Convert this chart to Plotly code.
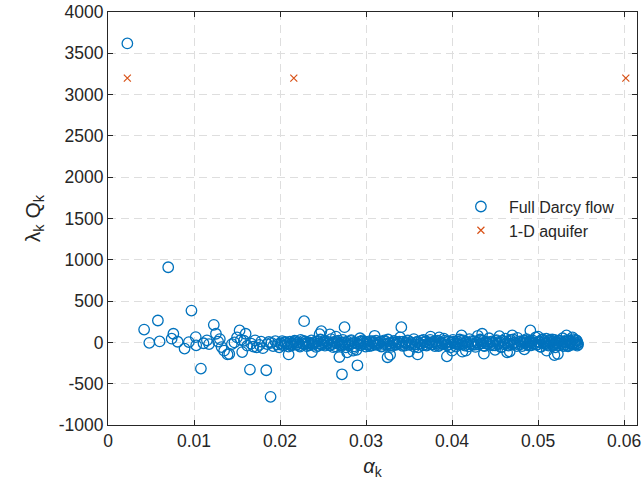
import plotly.graph_objects as go

# ---- data ----
darcy_alpha = [
    0.00225, 0.00420, 0.00480, 0.00580, 0.00600, 0.00700, 0.00740, 0.00760, 0.00810, 0.00890,
    0.00940, 0.00970, 0.01020, 0.01025, 0.01080, 0.01110, 0.01150, 0.01175, 0.01230, 0.01255,
    0.01280, 0.01300, 0.01320, 0.01350, 0.01390, 0.01410, 0.01440, 0.01470, 0.01500, 0.01530,
    0.01545, 0.01560, 0.01580, 0.01600, 0.01620, 0.01650, 0.01665, 0.01690, 0.01710, 0.01730,
    0.01760, 0.01780, 0.01800, 0.01840, 0.01850, 0.01870, 0.01890, 0.01900, 0.01920, 0.01945,
    0.01970, 0.01990,
    0.02010, 0.02025, 0.02046, 0.02061, 0.02083, 0.02098, 0.02115, 0.02136, 0.02152, 0.02170,
    0.02188, 0.02205, 0.02224, 0.02240, 0.02259, 0.02275, 0.02293, 0.02311, 0.02330, 0.02346,
    0.02365, 0.02381, 0.02400, 0.02418, 0.02434, 0.02452, 0.02470, 0.02487, 0.02505, 0.02522,
    0.02540, 0.02556, 0.02575, 0.02592, 0.02610, 0.02627, 0.02645, 0.02661, 0.02680, 0.02697,
    0.02715, 0.02731, 0.02750, 0.02766, 0.02785, 0.02801, 0.02820, 0.02836, 0.02855, 0.02871,
    0.02890, 0.02906, 0.02925, 0.02941, 0.02960, 0.02976, 0.02995, 0.03011, 0.03030, 0.03046,
    0.03065, 0.03081, 0.03100, 0.03116, 0.03135, 0.03151, 0.03170, 0.03186, 0.03205, 0.03221,
    0.03240, 0.03256, 0.03275, 0.03291, 0.03310, 0.03326, 0.03345, 0.03361, 0.03380, 0.03396,
    0.03415, 0.03431, 0.03450, 0.03466, 0.03485, 0.03501, 0.03520, 0.03536, 0.03555, 0.03571,
    0.03590, 0.03606, 0.03625, 0.03641, 0.03660, 0.03676, 0.03695, 0.03711, 0.03730, 0.03746,
    0.03765, 0.03781, 0.03800, 0.03816, 0.03835, 0.03851, 0.03870, 0.03886, 0.03905, 0.03921,
    0.03940, 0.03956, 0.03975, 0.03991, 0.04010, 0.04026, 0.04045, 0.04061, 0.04080, 0.04096,
    0.04115, 0.04131, 0.04150, 0.04166, 0.04185, 0.04201, 0.04220, 0.04236, 0.04255, 0.04271,
    0.04290, 0.04306, 0.04325, 0.04341, 0.04360, 0.04376, 0.04395, 0.04411, 0.04430, 0.04446,
    0.04465, 0.04481, 0.04500, 0.04516, 0.04535, 0.04551, 0.04570, 0.04586, 0.04605, 0.04621,
    0.04640, 0.04656, 0.04675, 0.04691, 0.04710, 0.04726, 0.04745, 0.04761, 0.04780, 0.04796,
    0.04815, 0.04831, 0.04850, 0.04866, 0.04885, 0.04901, 0.04920, 0.04936, 0.04955, 0.04971,
    0.04990, 0.05006, 0.05025, 0.05041, 0.05060, 0.05076, 0.05095, 0.05111, 0.05130, 0.05146,
    0.05165, 0.05181, 0.05200, 0.05216, 0.05235, 0.05251, 0.05270, 0.05286, 0.05305, 0.05321,
    0.05340, 0.05356, 0.05375, 0.05391, 0.05410, 0.05426, 0.05440, 0.05452, 0.05460, 0.05465,
    0.04822, 0.04878, 0.04912, 0.04962, 0.05018, 0.05052, 0.05088, 0.05122, 0.05158, 0.05192,
    0.05228, 0.05262, 0.05298, 0.05332, 0.05366, 0.05402, 0.05434, 0.05455,
    0.02100, 0.02280, 0.02370, 0.02480, 0.02580, 0.02460, 0.02690, 0.02720, 0.02750, 0.02780,
    0.02900, 0.02930, 0.02850, 0.03250, 0.03280, 0.03410, 0.03600, 0.03940, 0.04110, 0.04120,
    0.04160, 0.04350, 0.04370, 0.04640, 0.04670, 0.04840, 0.04910, 0.05190, 0.05230, 0.05330,
    0.04300, 0.04550, 0.04700, 0.05000, 0.03750, 0.03100, 0.02650, 0.03500, 0.03850, 0.04000,
    0.04500, 0.05100, 0.05400,
    0.02018, 0.02054, 0.02092, 0.02128, 0.02162, 0.02197, 0.02232, 0.02268, 0.02302, 0.02338,
    0.02373, 0.02409, 0.02444, 0.02479, 0.02514, 0.02548, 0.02584, 0.02618, 0.02653, 0.02689,
    0.02723, 0.02758, 0.02793, 0.02828, 0.02863, 0.02898, 0.02933, 0.02968, 0.03003, 0.03038,
    0.03073, 0.03108, 0.03143, 0.03178, 0.03213, 0.03248, 0.03283, 0.03318, 0.03353, 0.03388,
    0.03423, 0.03458, 0.03493, 0.03528, 0.03563, 0.03598, 0.03633, 0.03668, 0.03703, 0.03738,
    0.03773, 0.03808, 0.03843, 0.03878, 0.03913, 0.03948, 0.03983, 0.04018, 0.04053, 0.04088,
    0.04123, 0.04158, 0.04193, 0.04228, 0.04263, 0.04298, 0.04333, 0.04368, 0.04403, 0.04438,
    0.04473, 0.04508, 0.04543, 0.04578, 0.04613, 0.04648, 0.04683, 0.04718, 0.04753, 0.04788,
    0.04807, 0.04843, 0.04893, 0.04928, 0.04982, 0.05033, 0.05068, 0.05103, 0.05138, 0.05173,
    0.05208, 0.05243, 0.05278, 0.05313, 0.05348, 0.05383, 0.05418, 0.05447,
]
darcy_lq = [
    3620, 155, -5, 265, 12, 910, 45, 105, 8, -75,
    4, 385, 64, -36, -317, -10, 25, -20, 213, 105,
    10, 40, -57, -100, -145, -140, -20, 0, 60, 145,
    30, -117, 20, 105, -40, -329, -15, -50, 25, -60,
    -30, 10, -70, -337, -20, 5, -659, -5, -45, 15,
    -25, -60,
    -10, 15, -35, 5, -20, -50, 8, -15, -30, 20,
    -25, 0, -40, 30, -8, -22, 12, -45, 2, -18,
    25, -30, -5, -55, 10, -15, 35, -28, 0, -40,
    15, -12, -35, 40, -20, 5, -48, -10, 22, -30,
    -2, 30, -25, -60, 8, -40, 18, -15, -70, 0,
    -90, -20, 10, -35, 25, -10, -50, 5, -25, 15,
    -40, 0, -15, 20, -30, -5, 12, -45, -20, 8,
    -25, 35, -10, -55, 0, 18, -30, 5, -15, 60,
    -20, 10, -40, -5, 25, -30, 0, -12, 40, -25,
    5, -60, -15, 20, -35, 0, 15, -28, -8, 30,
    -20, 8, -45, -10, 22, -30, 3, -18, 45, -5,
    -35, 12, -22, 0, 30, -15, -50, 10, -25, 18,
    -8, 25, -40, 5, -20, 40, -12, -30, 15, -55,
    0, -25, 35, -10, 20, -45, 8, -18, 50, -30,
    12, -5, -35, 28, -15, 5, -60, 20, -22, 45,
    -10, -40, 15, -25, 35, 0, -18, 55, -30, 10,
    -45, 20, -8, 40, -20, 5, -35, 25, -12, 60,
    -25, 10, -50, 30, 0, -15, 45, -30, 15, -8,
    35, -20, -60, 5, 20, -35, -5, 50, -25, 10,
    -40, 25, -12, -30, 40, 0, -20, 15, -8, -25,
    5, -30, 22, -15, 0, 38, -22, -40, 8, 30,
    -10, 18, -45, 28, 5, -15, 30, -40,
    -145, 257, -117, 136, 96, 100, -177, -386, 184, -120,
    -277, 50, -100, -180, -150, 184, -145, -169, 84, -112,
    -100, 105, -136, -120, -110, -84, 145, -153, -140, 84,
    80, 75, 85, 70, 70, 80, 70, -110, 60, -100,
    -90, -100, 60,
    -30, 0, -12, -38, 5, -25, -52, 18, -8, -35,
    -15, 10, -42, -20, 22, -5, -30, -58, 12, -18,
    -40, 2, -22, 28, -48, -12, -32, 8, -20, -45,
    15, -28, -6, -50, 25, -15, -35, 0, -25, 10,
    -42, -8, 18, -30, -55, 5, -18, 30, -38, -2,
    -25, 12, -45, -10, 20, -32, -60, 8, -15, 35,
    -22, 0, -48, 15, -28, -5, 25, -40, -12, 2,
    -35, 18, -20, -52, 8, -30, 30, -10, -45, 12,
    -18, 25, -38, 2, -28, -55, 15, -5, 32, -42,
    -15, 20, -30, 0, -48, 10, -22, 25,
]

aquifer_alpha = [0.00225, 0.02160, 0.06020]
aquifer_lq = [3200, 3200, 3200]

x_ticks = [0, 0.01, 0.02, 0.03, 0.04, 0.05, 0.06]
x_tick_labels = ["0", "0.01", "0.02", "0.03", "0.04", "0.05", "0.06"]
y_ticks = [-1000, -500, 0, 500, 1000, 1500, 2000, 2500, 3000, 3500, 4000]
y_tick_labels = ["-1000", "-500", "0", "500", "1000", "1500", "2000", "2500", "3000", "3500", "4000"]

BLUE = "#0072BD"
ORANGE = "#D95319"
AX = "#262626"
GRID = "#dedede"

fig = go.Figure()
fig.add_trace(go.Scatter(
    x=darcy_alpha, y=darcy_lq, mode="markers", name="Full Darcy flow",
    marker=dict(symbol="circle-open", size=10.5, color=BLUE, line=dict(width=1.3, color=BLUE)),
))
fig.add_trace(go.Scatter(
    x=aquifer_alpha, y=aquifer_lq, mode="markers", name="1-D aquifer",
    marker=dict(symbol="x-thin-open", size=7, color=ORANGE, line=dict(width=1.2, color=ORANGE)),
))

axis_common = dict(
    ticks="inside", ticklen=5, tickcolor=AX, tickwidth=1,
    showline=True, linecolor=AX, linewidth=1, mirror="ticks",
    showgrid=True, gridcolor=GRID, gridwidth=1, griddash="8px,5px",
    zeroline=False, tickfont=dict(size=17.5, color=AX),
    ticklabeloverflow="allow",
)

fig.update_layout(
    width=643, height=491,
    margin=dict(l=108, r=2, t=10, b=66),
    plot_bgcolor="white", paper_bgcolor="white",
    font=dict(family="Liberation Sans, Arial, sans-serif", color=AX, size=17.5),
    showlegend=True,
    legend=dict(x=0.652, y=0.57, xanchor="left", yanchor="top",
                bgcolor="rgba(0,0,0,0)", font=dict(size=16, color=AX),
                itemwidth=46, tracegroupgap=0),
    xaxis=dict(range=[0, 0.0615], tickvals=x_ticks, ticktext=x_tick_labels,
               title=dict(text="<i>α</i><sub>k</sub>", font=dict(size=20, color=AX), standoff=8),
               **axis_common),
    yaxis=dict(range=[-1000, 4000], tickvals=y_ticks, ticktext=y_tick_labels,
               title=dict(text="λ<sub>k</sub> Q<sub>k</sub>", font=dict(size=21, color=AX), standoff=12),
               **axis_common),
)

fig.write_html("out.html")
